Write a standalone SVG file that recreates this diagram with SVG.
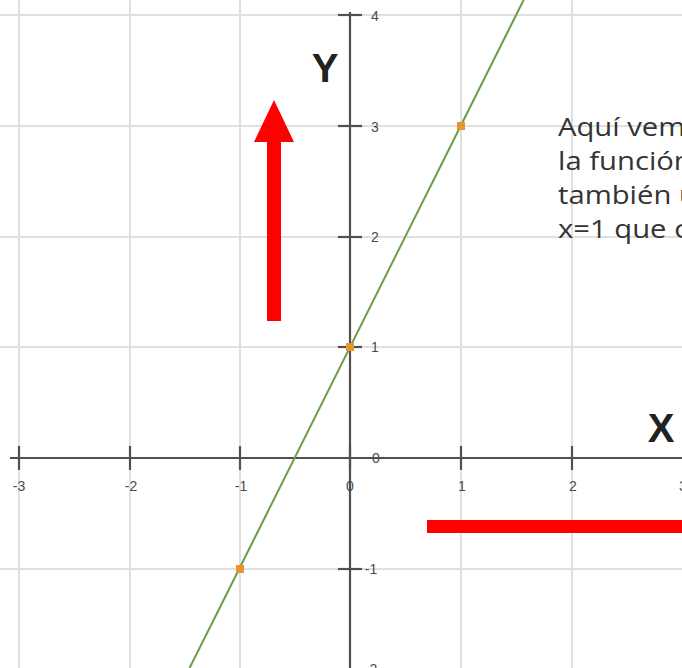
<svg xmlns="http://www.w3.org/2000/svg" width="682" height="668" viewBox="0 0 682 668">
<style>
.grid{stroke:#e0e0e0;stroke-width:2;fill:none}
.axis{stroke:#505050;stroke-width:2.2;fill:none}
.tick{stroke:#505050;stroke-width:2.2}
.tl{font-family:"Liberation Sans",Arial,sans-serif;font-size:14px;fill:#4a4a4a}
.pt{fill:#e8952e}
.big{font-family:"Liberation Sans",Arial,sans-serif;font-weight:bold;font-size:40px;fill:#222}
.txt{font-family:"Open Sans","Noto Sans",sans-serif;font-size:25px;fill:#333}
</style>
<rect width="682" height="668" fill="#fff"/>
<g id="grid" class="grid">
<line x1="19" y1="0" x2="19" y2="668"/>
<line x1="130" y1="0" x2="130" y2="668"/>
<line x1="240" y1="0" x2="240" y2="668"/>
<line x1="461" y1="0" x2="461" y2="668"/>
<line x1="572" y1="0" x2="572" y2="668"/>
<line x1="0" y1="15" x2="682" y2="15"/>
<line x1="0" y1="126" x2="682" y2="126"/>
<line x1="0" y1="237" x2="682" y2="237"/>
<line x1="0" y1="347" x2="682" y2="347"/>
<line x1="0" y1="569" x2="682" y2="569"/>
</g>
<g id="axes">
<line class="axis" x1="10" y1="458" x2="682" y2="458"/>
<line class="axis" x1="350" y1="12" x2="350" y2="668"/>
<g class="tick">
<line x1="19" y1="446" x2="19" y2="470"/>
<line x1="130" y1="446" x2="130" y2="470"/>
<line x1="240" y1="446" x2="240" y2="470"/>
<line x1="350" y1="446" x2="350" y2="470"/>
<line x1="461" y1="446" x2="461" y2="470"/>
<line x1="572" y1="446" x2="572" y2="470"/>
<line x1="338" y1="15" x2="362" y2="15"/>
<line x1="338" y1="126" x2="362" y2="126"/>
<line x1="338" y1="237" x2="362" y2="237"/>
<line x1="338" y1="347" x2="362" y2="347"/>
<line x1="338" y1="569" x2="362" y2="569"/>
</g>
</g>
<g id="tick-labels" class="tl" text-anchor="middle">
<text x="19" y="491">-3</text>
<text x="131" y="491">-2</text>
<text x="241" y="491">-1</text>
<text x="350" y="491">0</text>
<text x="462" y="491">1</text>
<text x="573" y="491">2</text>
<text x="683" y="491">3</text>
<text x="376" y="463">0</text>
<text x="375" y="21">4</text>
<text x="375" y="132">3</text>
<text x="375" y="242">2</text>
<text x="375" y="352">1</text>
<text x="371" y="574">-1</text>
<text x="371" y="674">-2</text>
</g>
<g id="function-line">
<line x1="523.6" y1="0" x2="189.6" y2="668" stroke="#6b9b45" stroke-width="2"/>
</g>
<g id="points" class="pt">
<rect x="457" y="122" width="8" height="8"/>
<rect x="346" y="343" width="8" height="8"/>
<rect x="236" y="565" width="8" height="8"/>
</g>
<g id="arrow-up">
<polygon points="274,100 294,142 281,142 281,321 267,321 267,142 254,142" fill="#ff0000"/>
</g>
<g id="bar-right">
<rect x="427" y="520" width="255" height="13" fill="#ff0000"/>
</g>
<g id="axis-labels" class="big">
<text x="325" y="82" text-anchor="middle">Y</text>
<text x="661" y="442" text-anchor="middle">X</text>
</g>
<g id="note" class="txt" transform="translate(558,0) scale(1.17,1)">
<text x="0" y="136">Aquí vem</text>
<text x="0" y="170">la función</text>
<text x="0" y="204">también u</text>
<text x="0" y="238">x=1 que c</text>
</g>
</svg>
